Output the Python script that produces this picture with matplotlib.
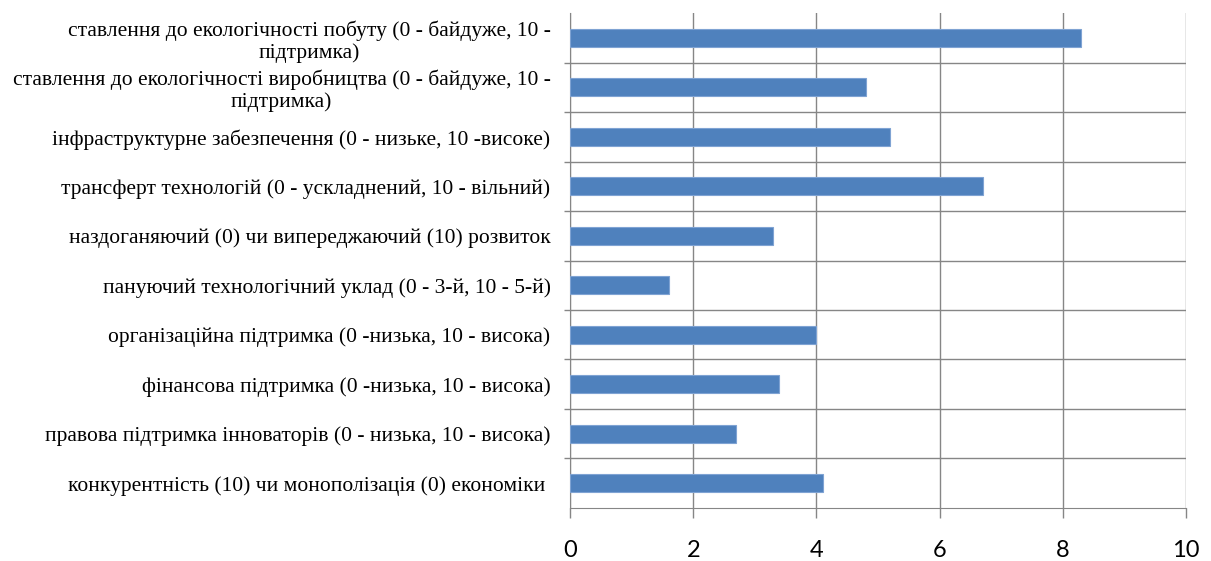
import matplotlib
matplotlib.use("Agg")
import matplotlib.pyplot as plt
import numpy as np

labels = [
    "ставлення до екологічності побуту (0 - байдуже, 10 -\nпідтримка)",
    "ставлення до екологічності виробництва (0 - байдуже, 10 -\nпідтримка)",
    "інфраструктурне забезпечення (0 - низьке, 10 -високе)",
    "трансферт технологій (0 - ускладнений, 10 - вільний)",
    "наздоганяючий (0) чи випереджаючий (10) розвиток",
    "пануючий технологічний уклад (0 - 3-й, 10 - 5-й)",
    "організаційна підтримка (0 -низька, 10 - висока)",
    "фінансова підтримка (0 -низька, 10 - висока)",
    "правова підтримка інноваторів (0 - низька, 10 - висока)",
    "конкурентність (10) чи монополізація (0) економіки ",
]
values = [8.3, 4.8, 5.2, 6.7, 3.3, 1.6, 4.0, 3.4, 2.7, 4.1]
xticks = [0, 2, 4, 6, 8, 10]

GRID = "#868686"
BAR = "#4F81BD"

fig = plt.figure(figsize=(12.11, 5.61), dpi=100)
ax = fig.add_axes([0.4707, 0.0945, 0.5087, 0.8823])

n = len(labels)
y = np.arange(n)[::-1]
ax.barh(y, values, height=0.37, color=BAR, edgecolor="#7FA3D3", linewidth=0.8, zorder=3)

ax.set_xlim(0, 10)
ax.set_ylim(-0.5, n - 0.5)
ax.set_xticks(xticks)
ax.set_xticklabels([str(t) for t in xticks], fontsize=17, family="Lato")
ax.tick_params(axis="x", length=7, width=1, color=GRID, pad=16)
ax.grid(axis="x", color=GRID, linewidth=1, zorder=0)

ax.set_yticks(y)
ax.set_yticklabels(labels, fontsize=15.5, family="Liberation Serif")
for t in ax.get_yticklabels():
    t.set_multialignment("center")
    t.set_linespacing(1.15)
ax.tick_params(axis="y", which="major", length=0, pad=14)
ax.set_yticks(np.arange(n - 1) + 0.5, minor=True)
ax.tick_params(axis="y", which="minor", length=4, width=1, color=GRID)
ax.grid(axis="y", which="minor", color=GRID, linewidth=1, zorder=0)

for side in ["top", "right"]:
    ax.spines[side].set_visible(False)
for side in ["left", "bottom"]:
    ax.spines[side].set_color(GRID)

fig.savefig("out.png", dpi=100)
